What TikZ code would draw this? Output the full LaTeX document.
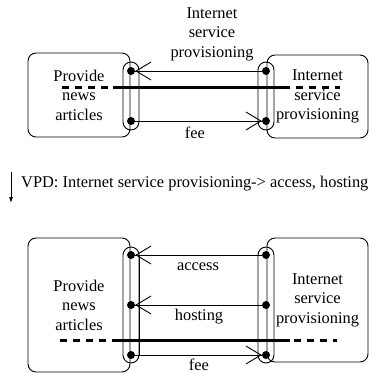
\documentclass[tikz,border=0pt]{standalone}
\usepackage{fontspec}
\setmainfont{Liberation Serif}
\usetikzlibrary{arrows.meta}
\pgfdeclarelayer{edgelayer}
\pgfdeclarelayer{nodelayer}
\pgfsetlayers{edgelayer,nodelayer,main}
\tikzstyle{role}=[draw=black, rounded corners=8pt, line width=0.9pt, align=center, inner sep=0pt]
\tikzstyle{port}=[draw=black, rounded corners=8pt, line width=0.9pt, minimum width=16pt, inner sep=0pt]
\tikzstyle{dot}=[circle, fill=black, inner sep=0pt, minimum size=8pt]
\tikzset{msg/.style={draw=black, line width=0.9pt, -{Straight Barb[length=15pt, width=18pt]}, postaction={draw, -}}}
\tikzstyle{label}=[align=center, inner sep=0pt]
\tikzstyle{contract}=[draw=black, line width=3pt]

\begin{document}
\begin{tikzpicture}[x=1pt, y=-1pt, font=\fontsize{16.4}{19.5}\selectfont]
			\useasboundingbox (0, 0) rectangle (371, 373);
			\begin{pgfonlayer}{nodelayer}
			% before
			\node [style=role, minimum width=102pt, minimum height=84pt] (pa) at (79, 95) {Provide\\news\\articles};
			\node [style=role, minimum width=101pt, minimum height=83pt] (isp) at (317.5, 96.5) {Internet\\service\\provisioning};
			\node [style=port, minimum height=68pt] (pl) at (131, 96) {};
			\node [style=port, minimum height=68pt] (pr) at (266, 96) {};
			\node [style=dot] (l1) at (131, 71) {};
			\node [style=dot] (l2) at (131, 121) {};
			\node [style=dot] (r1) at (266, 71) {};
			\node [style=dot] (r2) at (266, 121) {};
			\node [style=label] (m1) at (212, 34) {Internet\\service\\provisioning};
			\node [style=label] (f1) at (195, 133) {fee};
			\coordinate (c1a) at (62, 87);
			\coordinate (c1b) at (340, 87);
			\coordinate (c1s) at (113, 87);
			\coordinate (c1e) at (290, 87);
			% refinement step
			\coordinate (v0) at (11, 172);
			\coordinate (v1) at (11, 203);
			\node [anchor=west, inner sep=0pt] (vpd) at (21, 184) {VPD: Internet service provisioning-> access, hosting};
			% after
			\node [style=role, minimum width=102pt, minimum height=134pt] (pa2) at (79, 305) {Provide\\news\\articles};
			\node [style=role, minimum width=101pt, minimum height=124pt] (isp2) at (317.5, 300) {Internet\\service\\provisioning};
			\node [style=port, minimum height=116pt] (pl2) at (131, 305) {};
			\node [style=port, minimum height=116pt] (pr2) at (266, 305) {};
			\node [style=dot] (la) at (131, 255) {};
			\node [style=dot] (lh) at (131, 305) {};
			\node [style=dot] (lf) at (131, 355) {};
			\node [style=dot] (ra) at (266, 255) {};
			\node [style=dot] (rh) at (266, 305) {};
			\node [style=dot] (rf) at (266, 355) {};
			\node [style=label] (m2) at (198, 267) {access};
			\node [style=label] (m3) at (199, 317) {hosting};
			\node [style=label] (f2) at (199, 365) {fee};
			\coordinate (c2a) at (60, 340);
			\coordinate (c2b) at (337, 340);
			\coordinate (c2s) at (113, 340);
			\coordinate (c2e) at (290, 340);
			\end{pgfonlayer}
			\begin{pgfonlayer}{edgelayer}
			\draw [style=contract, dash pattern=on 7pt off 6pt] (c1a) to (c1b);
			\draw [style=contract] (c1s) to (c1e);
			\draw [msg] (r1) to (l1);
			\draw [msg] (l2) to (r2);
			\draw [-{Latex[length=6pt, width=4pt]}, line width=0.8pt] (v0) to (v1);
			\draw [style=contract, dash pattern=on 7pt off 6pt] (c2a) to (c2b);
			\draw [style=contract] (c2s) to (c2e);
			\draw [line width=1.5pt] (pl2.east |- la) to (pl2.east |- lf);
			\draw [msg] (ra) to (la);
			\draw [msg] (rh) to (lh);
			\draw [msg] (lf) to (rf);
			\end{pgfonlayer}
			\end{tikzpicture}
\end{document}
